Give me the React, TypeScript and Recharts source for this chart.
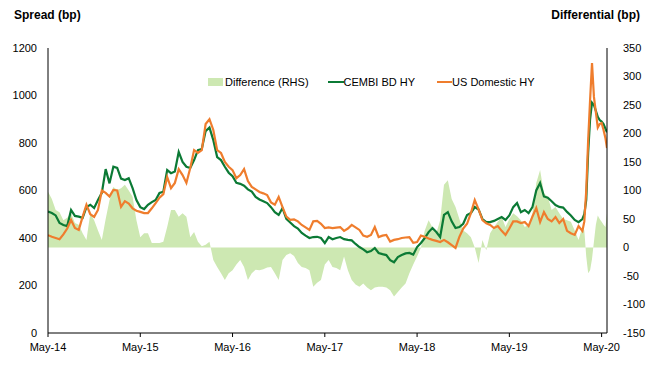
import React from 'react';
import { ComposedChart, Line, Area, XAxis, YAxis } from 'recharts';

// months since May-14; half-month steps, finer around the March 2020 spike
const months = [
  ...Array.from({ length: 140 }, (_, i) => i / 2),
  69.75, 70, 70.25, 70.5, 70.75, 71, 71.25, 71.5, 71.75, 72, 72.25, 72.5, 72.7,
];

const tickLabels = ['May-14', 'May-15', 'May-16', 'May-17', 'May-18', 'May-19', 'May-20'];
const xTicks = [0, 12, 24, 36, 48, 60, 72];
const leftTicks = [0, 200, 400, 600, 800, 1000, 1200];
const rightTicks = [-150, -100, -50, 0, 50, 100, 150, 200, 250, 300, 350];

const cembi = [
  511, 505, 495, 463, 455, 450, 518, 493, 490, 485,
  530, 540, 526, 560, 590, 690, 630, 700, 695, 650,
  644, 652, 610, 560, 530, 522, 540, 551, 560, 590,
  595, 686, 673, 680, 762, 720, 700, 695, 728, 770,
  775, 850, 865, 812, 741, 728, 700, 675, 660, 632,
  628, 620, 605, 595, 573, 562, 555, 547, 530, 509,
  497, 526, 480, 465, 450, 440, 421, 410, 400, 404,
  405, 400, 379, 404, 395, 400, 404, 395, 392, 390,
  375, 362, 352, 340, 345, 358, 337, 332, 328, 307,
  298, 320, 328, 335, 337, 330, 362, 379, 400, 425,
  442, 425, 404, 497, 509, 470, 442, 446, 460, 497,
  505, 530, 520, 480, 467, 467, 472, 480, 488, 476,
  495, 530, 547, 509, 518, 505, 530, 600, 632, 575,
  570, 555, 539, 531, 528, 510, 495, 476, 467, 480,
  500, 560, 760, 900, 970, 960, 935, 910, 897, 890, 880, 860, 845,
];

const usHy = [
  412, 405, 400, 395, 415, 440, 476, 442, 434, 489,
  540, 500, 489, 518, 600, 590, 575, 602, 600, 531,
  555, 545, 525, 515, 510, 505, 505, 525, 547, 570,
  585, 657, 610, 632, 690, 665, 632, 695, 770, 758,
  770, 880, 900, 855, 770, 758, 720, 700, 686, 652,
  665, 690, 640, 615, 605, 594, 588, 581, 550, 540,
  573, 530, 490, 476, 478, 470, 455, 445, 434, 470,
  472, 460, 442, 445, 442, 444, 446, 430, 440, 455,
  445, 434, 410, 405, 413, 446, 404, 410, 413, 385,
  392, 395, 400, 402, 404, 380, 383, 410, 405, 398,
  392, 388, 383, 392, 382, 370, 358, 405, 440, 460,
  505, 560, 520, 475, 462, 455, 442, 450, 430, 413,
  440, 470, 470, 463, 467, 450, 490, 526, 467, 509,
  480, 470, 488, 463, 480, 430, 420, 413, 450, 430,
  470, 600, 812, 981, 1137, 994, 930, 865, 880, 884, 855, 820, 779,
];

const difference = [
  98, 85, 66, 62, 48, 52, 60, 43, 40, 25,
  13, 60, 48, 30, 13, 50, 83, 106, 101, 104,
  110, 100, 89, 48, 18, 25, 25, 8, 8, 8,
  10, 36, 66, 66, 54, 60, 54, 18, 27, 10,
  2, 5, 10, -22, -34, -45, -57, -45, -40, -30,
  -22, -34, -57, -45, -39, -40, -38, -35, -34, -45,
  -57, -22, -13, -10, -15, -27, -34, -36, -40, -69,
  -62, -57, -30, -22, -34, -36, -40, -16, -40, -57,
  -65, -69, -63, -70, -75, -70, -69, -69, -70, -75,
  -86, -78, -70, -63, -45, -30, -16, 0, 30, 48,
  35, 25, 48, 110, 118, 85, 71, 50, 30, 25,
  18, 0, -27, 13, -5, 25, 36, 45, 54, 36,
  50, 60, 55, 48, 36, 40, 60, 113, 136, 95,
  89, 66, 71, 60, 50, 48, 45, 30, 13, 36,
  30, -16, -45, -40, -20, 10, 40, 56, 50, 45, 40, 36, 60,
];

const data = months.map((t, i) => ({
  t,
  cembi: cembi[i],
  us: usHy[i],
  diff: difference[i],
}));

const FONT = '"Liberation Sans", Arial, sans-serif';
const GREEN = '#0b7a35';
const ORANGE = '#ef7d2d';
const LIGHT = '#cde8b2';

export default function App() {
  const tickStyle = { fill: '#000', fontSize: 11, fontFamily: FONT };
  return (
    <div style={{ position: 'absolute', left: 0, top: 0, width: 662, height: 369, background: '#fff', fontFamily: FONT }}>
      <ComposedChart
        width={662}
        height={369}
        data={data}
        margin={{ top: 48, right: 0, bottom: 6, left: 0 }}
      >
        <XAxis
          dataKey="t"
          type="number"
          domain={[0, 72.7]}
          ticks={xTicks}
          tickFormatter={(v) => tickLabels[xTicks.indexOf(v)]}
          stroke="#000"
          tick={tickStyle}
          tickSize={4}
          tickMargin={6}
          height={30}
          allowDataOverflow
        />
        <YAxis
          yAxisId="left"
          domain={[0, 1200]}
          ticks={leftTicks}
          stroke="#000"
          tick={tickStyle}
          tickLine={false}
          tickMargin={5}
          width={48}
        />
        <YAxis
          yAxisId="right"
          orientation="right"
          domain={[-150, 350]}
          ticks={rightTicks}
          stroke="#000"
          tick={tickStyle}
          tickLine={false}
          tickMargin={10}
          width={55}
        />
        <Area
          yAxisId="right"
          dataKey="diff"
          type="linear"
          fill={LIGHT}
          fillOpacity={1}
          stroke="none"
          baseValue={0}
          isAnimationActive={false}
        />
        <Line
          yAxisId="left"
          dataKey="cembi"
          type="linear"
          stroke={GREEN}
          strokeWidth={2.2}
          dot={false}
          isAnimationActive={false}
        />
        <Line
          yAxisId="left"
          dataKey="us"
          type="linear"
          stroke={ORANGE}
          strokeWidth={2.2}
          dot={false}
          isAnimationActive={false}
        />
      </ComposedChart>

      <div style={{ position: 'absolute', left: 14, top: 8, fontSize: 12, fontWeight: 'bold' }}>Spread (bp)</div>
      <div style={{ position: 'absolute', right: 22, top: 8, fontSize: 12, fontWeight: 'bold' }}>Differential (bp)</div>

      <div style={{ position: 'absolute', left: 208, top: 74, display: 'flex', alignItems: 'center', fontSize: 11, height: 16 }}>
        <span style={{ display: 'inline-block', width: 15, height: 8, background: LIGHT, marginRight: 2 }} />
        <span style={{ marginRight: 19 }}>Difference (RHS)</span>
        <span style={{ display: 'inline-block', width: 16, height: 2, background: GREEN }} />
        <span style={{ marginRight: 22 }}>CEMBI BD HY</span>
        <span style={{ display: 'inline-block', width: 15, height: 2, background: ORANGE }} />
        <span>US Domestic HY</span>
      </div>
    </div>
  );
}
